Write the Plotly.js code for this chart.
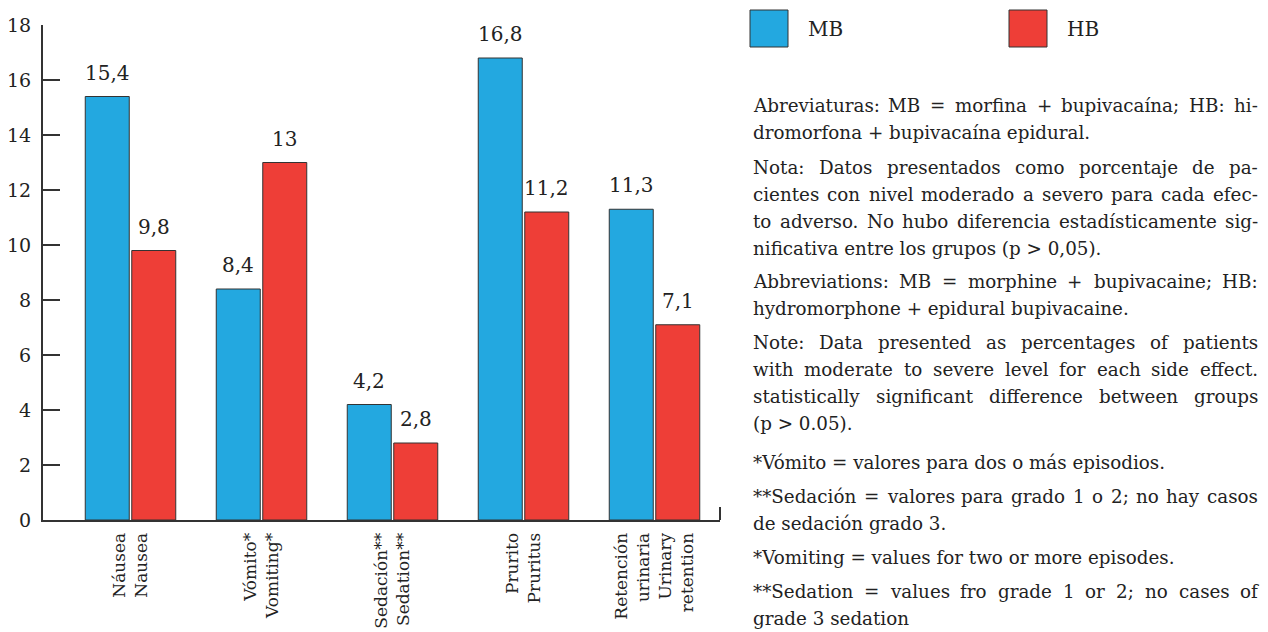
<!DOCTYPE html>
<html>
<head>
<meta charset="utf-8">
<script src="https://cdn.plot.ly/plotly-3.0.1.min.js"></script>
<style>html,body{margin:0;padding:0;background:#fff;} #chart{width:1268px;height:632px;}</style>
</head>
<body>
<div id="chart"></div>
<script>
// ---- data ----
const categories = ['Náusea<br>Nausea', 'Vómito*<br>Vomiting*', 'Sedación**<br>Sedation**', 'Prurito<br>Pruritus', 'Retención<br>urinaria<br>Urinary<br>retention'];
const mbValues = [15.4, 8.4, 4.2, 16.8, 11.3];
const hbValues = [9.8, 13, 2.8, 11.2, 7.1];
const yTickVals = [0, 2, 4, 6, 8, 10, 12, 14, 16, 18];
const seriesNames = ['MB', 'HB'];
const paragraphs = [
  ['Abreviaturas: MB = morfina + bupivacaína; HB: hi-', 'dromorfona + bupivacaína epidural.'],
  ['Nota: Datos presentados como porcentaje de pa-', 'cientes con nivel moderado a severo para cada efec-', 'to adverso. No hubo diferencia estadísticamente sig-', 'nificativa entre los grupos (p > 0,05).'],
  ['Abbreviations: MB = morphine + bupivacaine; HB:', 'hydromorphone + epidural bupivacaine.'],
  ['Note: Data presented as percentages of patients', 'with moderate to severe level for each side effect.', 'statistically significant difference between groups', '(p > 0.05).'],
  ['*Vómito = valores para dos o más episodios.'],
  ['**Sedación = valores para grado 1 o 2; no hay casos', 'de sedación grado 3.'],
  ['*Vomiting = values for two or more episodes.'],
  ['**Sedation = values fro grade 1 or 2; no cases of', 'grade 3 sedation']
];

// ---- style ----
const BLUE = '#23A8E0', RED = '#EE3E37', DARK = '#333333', TXT = '#222222';
const FONT = 'DejaVu Serif';
const M = {l: 43, r: 548, t: 25, b: 112};
const W = 1268, H = 632;
const PW = W - M.l - M.r, PH = H - M.t - M.b;
const XRANGE = [-0.668, 4.5];
const BARGAP = 0.29, BARGROUPGAP = 0.054;
const px2x = px => (px - M.l) / PW;
const py2y = py => (H - M.b - py) / PH;
const fmt = v => String(v).replace('.', ',');

const traces = [
  {type: 'bar', name: seriesNames[0], x: categories, y: mbValues,
   marker: {color: BLUE, line: {color: DARK, width: 1}}, hoverinfo: 'none'},
  {type: 'bar', name: seriesNames[1], x: categories, y: hbValues,
   marker: {color: RED, line: {color: DARK, width: 1}}, hoverinfo: 'none'}
];

const annotations = [];
const shapes = [];

// value labels above the bars (placed on the axes' own scales)
const bandPx = PW / (XRANGE[1] - XRANGE[0]);
const slotPx = bandPx * (1 - BARGAP) / 2;
[mbValues, hbValues].forEach((vals, s) => {
  vals.forEach((v, i) => {
    annotations.push({xref: 'x', yref: 'y', x: i, y: v, xshift: (s === 0 ? -1 : 1) * slotPx / 2, yshift: 10,
      xanchor: 'center', yanchor: 'bottom', text: fmt(v), showarrow: false,
      font: {family: FONT, size: 20, color: TXT}});
  });
});

// text block with justified lines
const canvas = document.createElement('canvas');
const ctx = canvas.getContext('2d');
const LEFT = 752, RIGHT = 1257, LH = 26.8;
ctx.font = '100px "' + FONT + '"';
let maxW = 0;
paragraphs.forEach(lines => lines.forEach((l, li) => { if (li < lines.length - 1) maxW = Math.max(maxW, ctx.measureText(l).width); }));
const FS = Math.min(18.5, 100 * (RIGHT - LEFT) * 0.97 / maxW);
ctx.font = FS + 'px "' + FONT + '"';
const paraStarts = [113, 175, 289, 350, 470, 504, 565, 599];
function addText(str, xpx, baseline, size) {
  annotations.push({xref: 'paper', yref: 'paper', x: px2x(xpx - 1), y: py2y(baseline + 0.236 * size + 1),
    xanchor: 'left', yanchor: 'bottom', text: str, showarrow: false,
    font: {family: FONT, size: size, color: TXT}});
}
paragraphs.forEach((lines, pi) => {
  lines.forEach((line, li) => {
    const baseline = paraStarts[pi] + li * LH;
    const justify = li < lines.length - 1;
    if (!justify) { addText(line, LEFT, baseline, FS); return; }
    const words = line.split(' ');
    const widths = words.map(w => ctx.measureText(w).width);
    const total = widths.reduce((a, b) => a + b, 0);
    const gap = (RIGHT - LEFT - total) / (words.length - 1);
    let x = LEFT;
    words.forEach((w, i) => { addText(w, x, baseline, FS); x += widths[i] + gap; });
  });
});

// legend
const legendItems = [{name: seriesNames[0], color: BLUE, x: 750}, {name: seriesNames[1], color: RED, x: 1009}];
legendItems.forEach(it => {
  shapes.push({type: 'rect', xref: 'paper', yref: 'paper', x0: px2x(it.x), x1: px2x(it.x + 38), y0: py2y(47), y1: py2y(10),
    fillcolor: it.color, line: {color: DARK, width: 1}});
  annotations.push({xref: 'paper', yref: 'paper', x: px2x(it.x + 56), y: py2y(29), xanchor: 'left', yanchor: 'middle',
    text: it.name, showarrow: false, font: {family: FONT, size: 20, color: TXT}});
});
// small end mark of the x axis
shapes.push({type: 'line', xref: 'paper', yref: 'paper', x0: 1, x1: 1, y0: 0, y1: py2y(507), line: {color: DARK, width: 2}});

const layout = {
  width: W, height: H, margin: M, paper_bgcolor: '#fff', plot_bgcolor: '#fff',
  showlegend: false, barmode: 'group', bargap: BARGAP, bargroupgap: BARGROUPGAP,
  font: {family: FONT, color: TXT},
  xaxis: {type: 'category', range: XRANGE, showline: true, linecolor: DARK, linewidth: 2,
    ticks: '', tickangle: -90, tickfont: {family: FONT, size: 17, color: TXT}, showgrid: false, zeroline: false,
    ticklabelstandoff: 4, fixedrange: true},
  yaxis: {range: [0, 18], tickvals: yTickVals, ticktext: yTickVals.map(String), showline: true, linecolor: DARK, linewidth: 2,
    ticks: 'inside', ticklen: 17, tickwidth: 2, tickcolor: DARK, showgrid: false, zeroline: false,
    tickfont: {family: FONT, size: 19, color: TXT}, ticklabelstandoff: 6, fixedrange: true},
  annotations: annotations, shapes: shapes
};
Plotly.newPlot('chart', traces, layout, {displayModeBar: false, staticPlot: true});
</script>
</body>
</html>
